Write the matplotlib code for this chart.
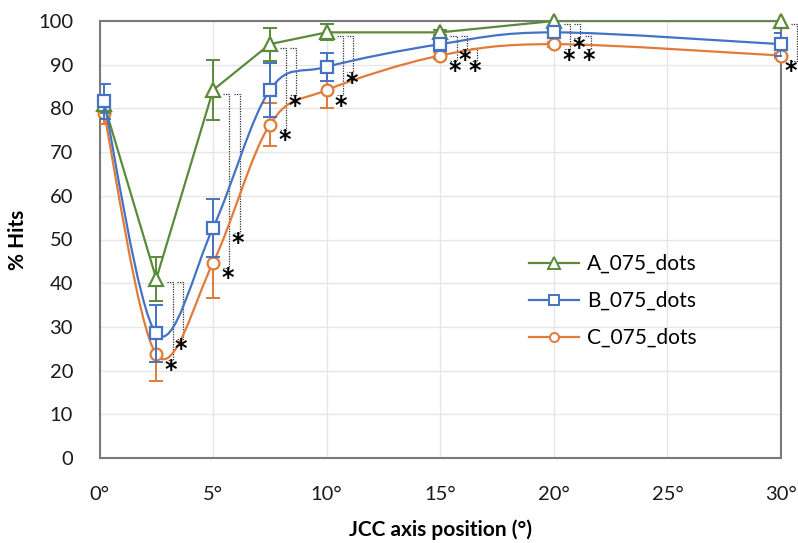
import numpy as np
import matplotlib
matplotlib.use("Agg")
import matplotlib.pyplot as plt
from matplotlib.path import Path
from matplotlib.patches import PathPatch
from matplotlib.lines import Line2D

plt.rcParams["font.family"] = ["Lato", "DejaVu Sans"]

# JCC axis position (deg) and % hits per condition
x_pos = [0.2, 2.5, 5, 7.5, 10, 15, 20, 30]
x_ticks = [0, 5, 10, 15, 20, 25, 30]
x_labels = ["0°", "5°", "10°", "15°", "20°", "25°", "30°"]

a_hits = [81.0, 41.0, 84.2, 94.7, 97.4, 97.4, 100.0, 100.0]
a_err = [2.0, 5.0, 6.8, 3.8, 1.8, 0.5, 0.0, 0.0]
b_hits = [81.6, 28.5, 52.7, 84.2, 89.5, 94.7, 97.4, 94.7]
b_err = [4.0, 6.5, 6.6, 6.2, 3.2, 1.5, 1.2, 2.6]
c_hits = [78.9, 23.7, 44.7, 76.3, 84.2, 92.1, 94.7, 92.1]
c_err = [2.4, 6.0, 8.0, 5.0, 4.0, 0.8, 0.6, 0.6]

# significant pairs at each position (upper, lower)
sig_pairs = {
    2.5: [("A", "C"), ("A", "B")],
    5: [("A", "C"), ("A", "B")],
    7.5: [("A", "C"), ("A", "B")],
    10: [("A", "C"), ("A", "B")],
    15: [("A", "C"), ("A", "B"), ("B", "C")],
    20: [("A", "C"), ("A", "B"), ("B", "C")],
    30: [("A", "C")],
}

GREEN = "#5B8A3A"
BLUE = "#4472C4"
ORANGE = "#E07B39"


def smooth_path(xs, ys):
    # Excel-like smoothed line: cubic bezier with catmull-rom tangents
    pts = np.column_stack([xs, ys]).astype(float)
    n = len(pts)
    verts = [pts[0]]
    codes = [Path.MOVETO]
    for i in range(n - 1):
        p0 = pts[i - 1] if i > 0 else pts[i]
        p1 = pts[i]
        p2 = pts[i + 1]
        p3 = pts[i + 2] if i + 2 < n else pts[i + 1]
        c1 = p1 + (p2 - p0) / 6.0
        c2 = p2 - (p3 - p1) / 6.0
        verts += [c1, c2, p2]
        codes += [Path.CURVE4] * 3
    return Path(verts, codes)


fig = plt.figure(figsize=(7.98, 5.43), dpi=100)
ax = fig.add_axes([99.5 / 798, 1 - 458 / 543, (781 - 99.5) / 798, (458 - 21) / 543])

series = [
    ("C_075_dots", c_hits, c_err, ORANGE, "o", 8.5, True),
    ("A_075_dots", a_hits, a_err, GREEN, "^", 10, False),
    ("B_075_dots", b_hits, b_err, BLUE, "s", 8, True),
]

for z, (name, hits, err, col, mk, ms, smooth) in enumerate(series):
    zb = 3 + z
    if smooth:
        ax.add_patch(PathPatch(smooth_path(x_pos, hits), fill=False, edgecolor=col,
                               lw=1.6, zorder=zb, capstyle="round"))
    else:
        ax.plot(x_pos, hits, color=col, lw=1.6, zorder=zb)
    ax.errorbar(x_pos, hits, yerr=err, fmt="none", ecolor=col, elinewidth=1.4,
                capsize=5, capthick=1.4, zorder=zb)
    ax.plot(x_pos, hits, ls="none", marker=mk, ms=ms, mfc="white", mec=col,
            mew=1.6, zorder=zb + 0.5, clip_on=False)

vals = {"A": a_hits, "B": b_hits, "C": c_hits}
for xp, pairs in sig_pairs.items():
    i = x_pos.index(xp)
    for k, (up, lo) in enumerate(pairs):
        x0 = xp + 0.45 + 0.45 * k
        x1 = x0 + 0.27
        yt = vals[up][i] - 0.8
        yb = vals[lo][i] - 1.2
        ax.plot([x0, x1, x1, x0], [yt, yt, yb, yb], color="#333333", lw=0.9,
                ls=(0, (1, 1)), zorder=2, clip_on=False)
        # keep the last star inside the picture
        sx = min((x0 + x1) / 2 + 0.05, 30.42)
        ax.text(sx, yb - 2.4, "*", ha="center", va="center",
                fontsize=17, fontweight="bold", color="black", clip_on=False,
                family="DejaVu Sans")

ax.set_xlim(0, 30)
ax.set_ylim(0, 100)
ax.set_xticks(x_ticks)
ax.set_xticklabels(x_labels)
ax.set_yticks(range(0, 101, 10))
ax.tick_params(length=0, labelsize=14.5, colors="#1a1a1a")
ax.tick_params(axis="x", pad=20)
ax.tick_params(axis="y", pad=19)
ax.grid(True, color="#e6e6e6", lw=1.0, zorder=0)
ax.set_axisbelow(True)
for sp in ax.spines.values():
    sp.set_color("#7a7a7a")
    sp.set_linewidth(1.5)

ax.set_ylabel("% Hits", fontsize=15, fontweight="bold", labelpad=7)
ax.set_xlabel("JCC axis position (°)", fontsize=15, fontweight="bold", labelpad=12)

handles = [
    Line2D([], [], color=GREEN, lw=1.6, marker="^", ms=8, mfc="white", mew=1.4),
    Line2D([], [], color=BLUE, lw=1.6, marker="s", ms=6.5, mfc="white", mew=1.4),
    Line2D([], [], color=ORANGE, lw=1.6, marker="o", ms=6.5, mfc="white", mew=1.4),
]
ax.legend(handles, ["A_075_dots", "B_075_dots", "C_075_dots"], loc="center left",
          bbox_to_anchor=(519 / 798, 1 - 301 / 543), bbox_transform=fig.transFigure,
          frameon=False, fontsize=15, handlelength=2.4, handletextpad=0.35,
          labelspacing=0.82, borderpad=0)

plt.savefig("out.png", dpi=100)
plt.close()
